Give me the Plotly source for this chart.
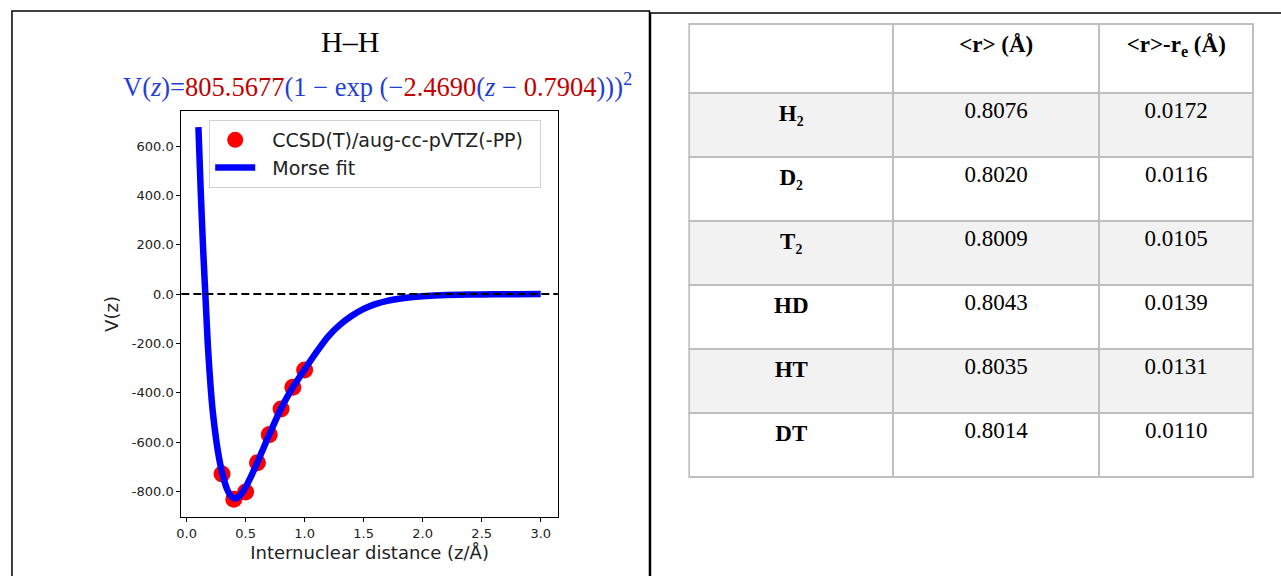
import plotly.graph_objects as go

W, H = 1281, 576
DX = -2  # small horizontal correction in pixels

# ---- data ----
ab_z = [0.3, 0.4, 0.5, 0.6, 0.7, 0.8, 0.9, 1.0]
ab_v = [-730, -832, -803, -684, -570, -466, -378, -308]

fit_z = [0.10, 0.12, 0.14, 0.16, 0.18, 0.20, 0.22, 0.25, 0.28, 0.31, 0.34, 0.37,
         0.40, 0.43, 0.46, 0.50, 0.55, 0.60, 0.65, 0.70, 0.80, 0.90, 1.00, 1.10,
         1.20, 1.30, 1.40, 1.50, 1.60, 1.70, 1.80, 1.90, 2.00, 2.20, 2.40, 2.60,
         2.80, 3.00]
fit_v = [677, 410, 180, -15, -210, -355, -470, -590, -678, -740, -788, -816,
         -828, -826, -812, -783, -735, -682, -626, -570, -464, -378, -306, -236,
         -172, -124, -88, -60, -41, -28, -19, -13, -9, -4, -2, -1,
         -0.5, -0.2]

x_ticks = [0.0, 0.5, 1.0, 1.5, 2.0, 2.5, 3.0]
x_tick_labels = ["0.0", "0.5", "1.0", "1.5", "2.0", "2.5", "3.0"]
y_ticks = [-800, -600, -400, -200, 0, 200, 400, 600]
y_tick_labels = ["-800.0", "-600.0", "-400.0", "-200.0", "0.0", "200.0", "400.0", "600.0"]

species = ["<b>H₂</b>", "<b>D₂</b>", "<b>T₂</b>", "<b>HD</b>", "<b>HT</b>", "<b>DT</b>"]
r_mean = [0.8076, 0.8020, 0.8009, 0.8043, 0.8035, 0.8014]
r_diff = [0.0172, 0.0116, 0.0105, 0.0139, 0.0131, 0.0110]
header_labels = ["", "<b>&lt;r&gt; (Å)</b>", "<b>&lt;r&gt;-r<sub>e</sub> (Å)</b>"]

# ---- helpers ----
def px(x):
    return (x + DX) / W

def py(y):
    return 1 - y / H

BLUE = "#1f3fd6"
RED = "#c00000"

fig = go.Figure()

fig.add_trace(go.Scatter(
    x=ab_z, y=ab_v, mode="markers",
    name="\u00a0\u00a0CCSD(T)/aug-cc-pVTZ(-PP)\u00a0\u00a0",
    marker=dict(color="#ff0000", size=17, line=dict(width=0)),
))
fig.add_trace(go.Scatter(
    x=fit_z, y=fit_v, mode="lines", name="\u00a0\u00a0Morse fit",
    line=dict(color="#0000ff", width=6.5, shape="spline", smoothing=0.6),
))

row_fill = ["#f2f2f2", "#ffffff", "#f2f2f2", "#ffffff", "#f2f2f2", "#ffffff"]
fig.add_trace(go.Table(
    domain=dict(x=[px(689), px(1256)], y=[py(480), py(24)]),
    columnwidth=[205, 207, 155],
    header=dict(values=header_labels, height=69, fill_color="white",
                line=dict(color="#bfbfbf", width=2), align="center",
                font=dict(family="Liberation Serif", size=23, color="black")),
    cells=dict(values=[species, r_mean, r_diff], format=["", ".4f", ".4f"], height=64,
               fill_color=[row_fill, row_fill, row_fill],
               line=dict(color="#bfbfbf", width=2), align="center",
               font=dict(family="Liberation Serif", size=23, color="black")),
))

axis_font = dict(family="DejaVu Sans", size=13, color="#222222")
fig.update_layout(
    width=W, height=H,
    margin=dict(l=0, r=0, t=0, b=0),
    paper_bgcolor="white", plot_bgcolor="white",
    showlegend=True,
    legend=dict(x=px(207), y=py(120), xanchor="left", yanchor="top",
                bgcolor="white", bordercolor="#d0d0d0", borderwidth=1,
                font=dict(family="DejaVu Sans", size=19, color="#222222"),
                itemwidth=40),
    xaxis=dict(domain=[px(179), px(557)], range=[-0.045, 3.145],
               tickvals=x_ticks, ticktext=x_tick_labels, ticks="outside",
               ticklen=4, tickcolor="black", showline=True, linecolor="black",
               linewidth=1, mirror=True, showgrid=False, zeroline=False,
               tickfont=axis_font,
               title=dict(text="Internuclear distance (z/Å)", standoff=6,
                          font=dict(family="DejaVu Sans", size=18, color="#222222"))),
    yaxis=dict(domain=[py(517), py(111)], range=[-904, 742],
               tickvals=y_ticks, ticktext=y_tick_labels, ticks="outside",
               ticklen=4, tickcolor="black", showline=True, linecolor="black",
               linewidth=1, mirror=True, showgrid=False, zeroline=False,
               tickfont=axis_font,
               title=dict(text="V(z)", standoff=8,
                          font=dict(family="DejaVu Sans", size=18, color="#222222"))),
)

# dashed zero line across the axes
fig.add_shape(type="line", xref="x domain", yref="y", x0=0, x1=1, y0=0, y1=0,
              line=dict(color="black", width=2, dash="8px,4px"))

# panel borders
fig.add_shape(type="rect", xref="paper", yref="paper",
              x0=px(9), x1=px(649), y0=py(590), y1=py(11),
              line=dict(color="black", width=1.5), layer="above")
fig.add_shape(type="rect", xref="paper", yref="paper",
              x0=px(650), x1=px(1295), y0=py(590), y1=py(13),
              line=dict(color="black", width=1.5), layer="above")

# titles
fig.add_annotation(xref="paper", yref="paper", x=px(348), y=py(42),
                   text="H–H", showarrow=False, xanchor="center", yanchor="middle",
                   font=dict(family="Liberation Serif", size=30, color="black"))

eq = (f"<span style='color:{BLUE}'>V(<i>z</i>)=</span>"
      f"<span style='color:{RED}'>805.5677</span>"
      f"<span style='color:{BLUE}'>(1 − exp (−</span>"
      f"<span style='color:{RED}'>2.4690</span>"
      f"<span style='color:{BLUE}'>(<i>z</i> − </span>"
      f"<span style='color:{RED}'>0.7904</span>"
      f"<span style='color:{BLUE}'>)))<sup>2</sup></span>")
fig.add_annotation(xref="paper", yref="paper", x=px(376), y=py(85),
                   text=eq, showarrow=False, xanchor="center", yanchor="middle",
                   font=dict(family="Liberation Serif", size=26.5, color=BLUE))

fig.write_html("out.html",
               config={"displayModeBar": False},
               post_script="document.body.style.margin='0px';"
                           "document.body.style.padding='0px';"
                           "document.body.style.overflow='hidden';")
